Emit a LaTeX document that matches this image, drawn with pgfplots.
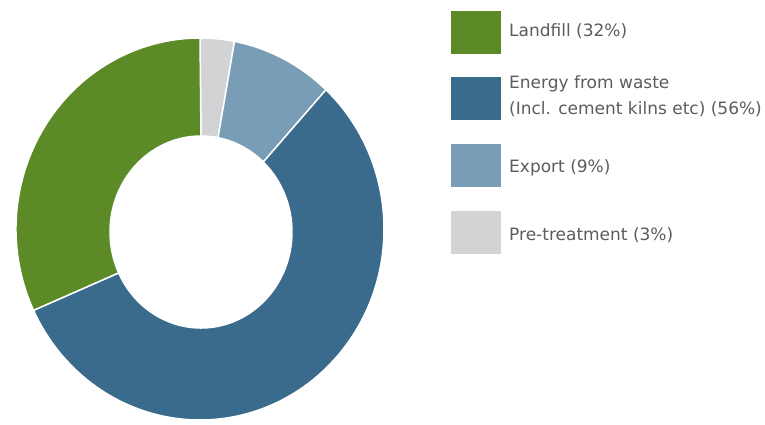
\documentclass[border=0pt]{standalone}
\usepackage{pgfplots}
\pgfplotsset{compat=1.18}
\usepackage{pgfplotstable}
\usepackage{fontspec}
\setmainfont{DejaVu Sans}
\definecolor{cLand}{HTML}{5B8A27}
\definecolor{cEnergy}{HTML}{3A6B8C}
\definecolor{cExport}{HTML}{7A9DB7}
\definecolor{cPre}{HTML}{D2D3D5}
\definecolor{cText}{HTML}{5C5C5C}

% slices in clockwise order from 12 o'clock
\pgfplotstableread{
name value
Pretreatment 3
Export 9
Energy 56
Landfill 32
}\piedata

% outer ellipse centre / radii, inner hole centre / radii (axis units = pt)
\def\cx{200}\def\cy{195}\def\Rx{184}\def\Ry{191}
\def\icx{201}\def\icy{192}\def\rx{91}\def\ry{96}

\newcommand\slice[3]{%
  \fill[#3, draw=white, line width=1.5pt, line join=miter]
    ({\cx+\Rx*cos(#1)},{\cy+\Ry*sin(#1)})
    arc[start angle=#1, end angle=#2, x radius=\Rx pt, y radius=\Ry pt]
    -- ({\icx+\rx*cos(#2)},{\icy+\ry*sin(#2)})
    arc[start angle=#2, end angle=#1, x radius=\rx pt, y radius=\ry pt]
    -- cycle;}

\begin{document}
\pgfplotstablegetelem{0}{value}\of\piedata\pgfmathsetmacro\vA{\pgfplotsretval}%
\pgfplotstablegetelem{1}{value}\of\piedata\pgfmathsetmacro\vB{\pgfplotsretval}%
\pgfplotstablegetelem{2}{value}\of\piedata\pgfmathsetmacro\vC{\pgfplotsretval}%
\pgfplotstablegetelem{3}{value}\of\piedata\pgfmathsetmacro\vD{\pgfplotsretval}%
\pgfmathsetmacro\aA{90}%
\pgfmathsetmacro\aB{\aA-3.6*\vA}%
\pgfmathsetmacro\aC{\aB-3.6*\vB}%
\pgfmathsetmacro\aD{\aC-3.6*\vC}%
\pgfmathsetmacro\aE{\aD-3.6*\vD}%
\begin{tikzpicture}
\useasboundingbox (0,0) rectangle (765pt,424pt);
\begin{axis}[at={(0,0)}, anchor=south west, scale only axis,
  width=765pt, height=424pt, xmin=0, xmax=765, ymin=0, ymax=424,
  hide axis, clip=false]
\slice{\aA}{\aB}{cPre}
\slice{\aB}{\aC}{cExport}
\slice{\aC}{\aD}{cEnergy}
\slice{\aD}{\aE}{cLand}
% legend
\fill[cLand]   (451,370) rectangle (501,413);
\fill[cEnergy] (451,304) rectangle (501,347);
\fill[cExport] (451,237) rectangle (501,280);
\fill[cPre]    (451,170) rectangle (501,213);
\begin{scope}[every node/.style={anchor=base west, inner sep=0pt, text=cText, font=\fontsize{17}{20}\selectfont}]
\node at (509,387.5) {Landfill (32\%)};
\node at (509,335) {Energy from waste};
\node at (509,310) {(Incl. cement kilns etc) (56\%)};
\node at (509,252) {Export (9\%)};
\node at (509,183.5) {Pre-treatment (3\%)};
\end{scope}
\end{axis}
\end{tikzpicture}
\end{document}
